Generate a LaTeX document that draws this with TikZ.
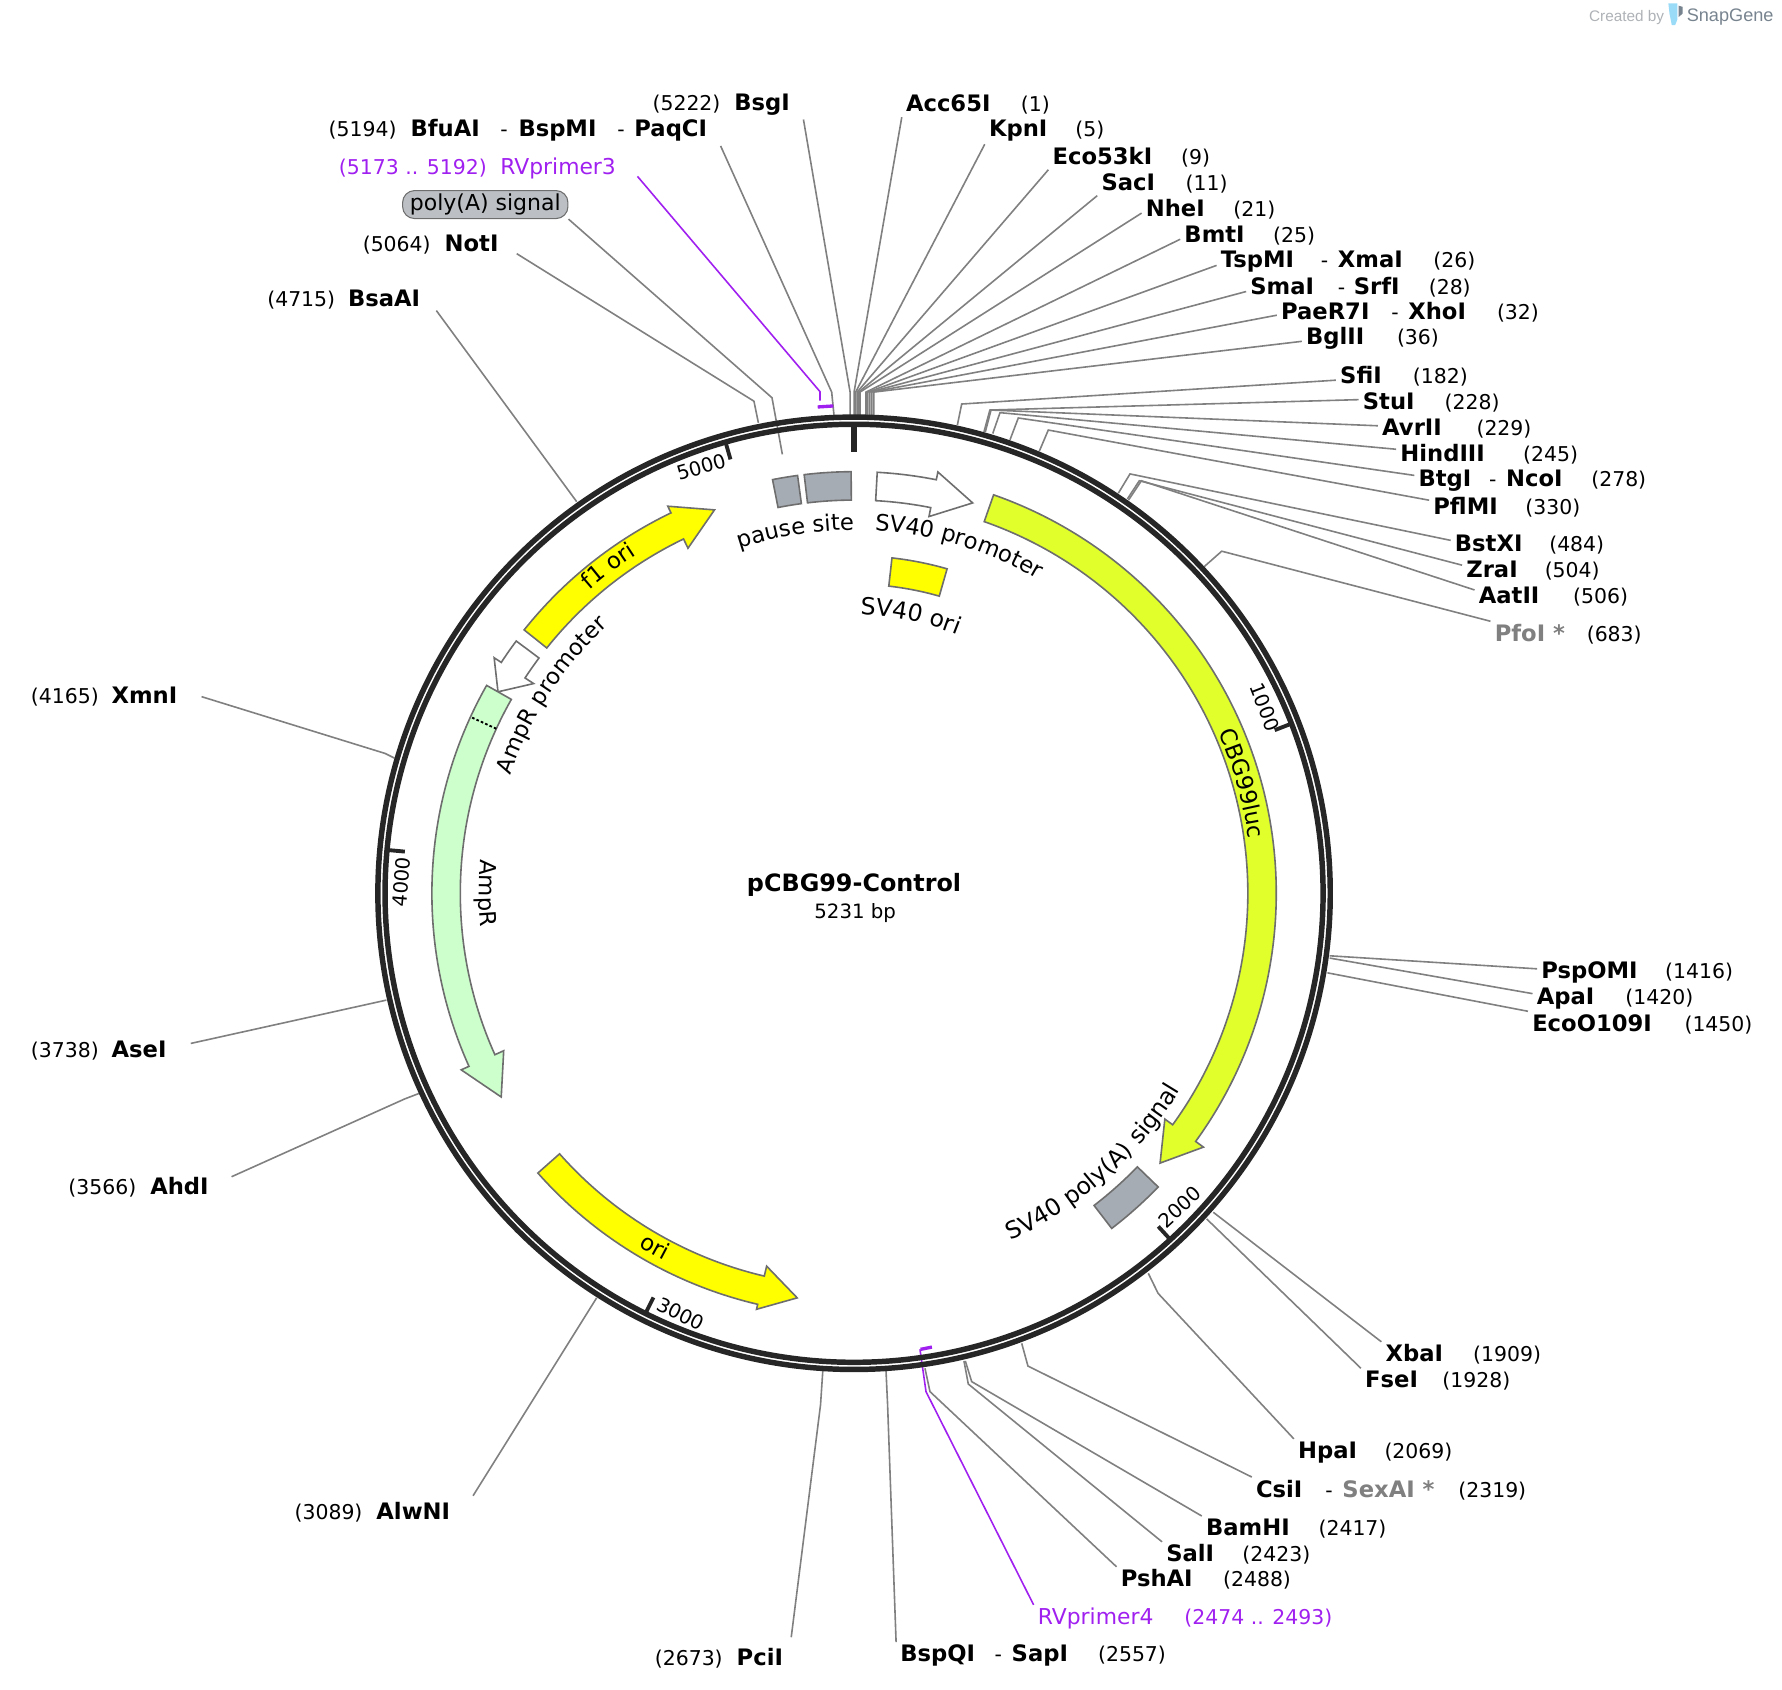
\documentclass[tikz,border=0pt]{standalone}
\usepackage{fontspec}
\usepackage{xcolor}
\setmainfont{DejaVu Sans}
\newfontfamily\logofont{Liberation Sans}
\usetikzlibrary{decorations.text}

\definecolor{ringcol}{HTML}{262626}
\definecolor{cutgray}{HTML}{808080}
\definecolor{edgegray}{HTML}{6E6E6E}
\definecolor{primercol}{HTML}{A020F0}
\definecolor{limecol}{HTML}{E0FF2B}
\definecolor{oricol}{HTML}{FFFF00}
\definecolor{ampcol}{HTML}{CCFFCC}
\definecolor{termcol}{HTML}{A6ACB3}
\definecolor{pillcol}{HTML}{BCC0C4}
\definecolor{snapcol}{HTML}{77838E}
\definecolor{madecol}{HTML}{AEB2B6}
\definecolor{iconcol}{HTML}{9ADBF7}

\newdimen\pxu \pxu=0.8523pt
\newcommand{\col}[2]{\makebox[#1\pxu][l]{#2}}
\newcommand{\nm}[1]{{\fontsize{17pt}{18pt}\selectfont\bfseries #1}}
\newcommand{\arcfont}{\fontsize{17pt}{18pt}\selectfont}
\newcommand{\arcfontb}{\fontsize{17.7pt}{18pt}\selectfont}

\begin{document}
\begin{tikzpicture}[
    x=0.8523pt, y=0.8523pt,
    font=\fontsize{15.3pt}{18pt}\selectfont,
    lblL/.style={anchor=west, inner xsep=10pt, inner ysep=3pt, xshift=-10pt, yshift=-1.7pt},
    lblR/.style={anchor=west, inner xsep=3pt, inner ysep=2pt, xshift=-3pt, yshift=-1.7pt},
    cut/.style={draw=cutgray, line width=1.2pt},
    primer/.style={draw=primercol, line width=1.2pt},
    bind/.style={draw=primercol, line width=2.5pt},
    feat/.style={draw=edgegray, line width=1.2pt, line join=miter},
    ticklbl/.style={font=\fontsize{14.7pt}{16pt}\selectfont, inner sep=0pt},
    thou/.style={draw=ringcol, line width=2.9pt},
    arclabel/.style={decorate, decoration={text along path, text align=center, text={|\arcfont|#1}}},
    arcwide/.style={decorate, decoration={text along path, text align=center, text={|\arcfontb|#1}}},
    ]
\useasboundingbox (0,0) rectangle (1568,-1487);

% labels, left side
\node[lblL] (BsgI) at (574,-90) {\col{72}{(5222)}\nm{BsgI}};
\node[lblL] (BfuAI) at (289,-113) {\col{72}{(5194)}\col{79}{\nm{BfuAI}}\col{16}{-}\col{87}{\nm{BspMI}}\col{15}{-}\nm{PaqCI}};
\node[lblL, text=primercol] (RVprimer3) at (298,-146) {\col{142}{(5173 .. 5192)}{\fontsize{16.4pt}{18pt}\selectfont RVprimer3}};
\node[draw=edgegray, fill=pillcol, rounded corners=9pt, line width=0.8pt, minimum width=124pt, minimum height=21pt, inner sep=0pt, font=\fontsize{16.5pt}{18pt}\selectfont] (pA) at (427,-180) {\raisebox{-1.2pt}{poly(A) signal}};
\node[lblL] (NotI) at (319,-213) {\col{72}{(5064)}\nm{NotI}};
\node[lblL] (BsaAI) at (235,-262) {\col{71}{(4715)}\nm{BsaAI}};
\node[lblL] (XmnI) at (27,-611) {\col{71}{(4165)}\nm{XmnI}};
\node[lblL] (AseI) at (27,-922) {\col{71}{(3738)}\nm{AseI}};
\node[lblL] (AhdI) at (60,-1043) {\col{72}{(3566)}\nm{AhdI}};
\node[lblL] (AlwNI) at (259,-1329) {\col{72}{(3089)}\nm{AlwNI}};
\node[lblL] (PciI) at (576,-1457) {\col{72}{(2673)}\nm{PciI}};

% labels, right side
\node[lblR] (Acc65I) at (797,-90) {\col{101}{\nm{Acc65I}}(1)};
\node[lblR] (KpnI) at (870,-113) {\col{76}{\nm{KpnI}}(5)};
\node[lblR] (Eco53kI) at (926,-136) {\col{113}{\nm{Eco53kI}}(9)};
\node[lblR] (SacI) at (969,-159) {\col{74}{\nm{SacI}}(11)};
\node[lblR] (NheI) at (1008,-182) {\col{77}{\nm{NheI}}(21)};
\node[lblR] (BmtI) at (1042,-205) {\col{78}{\nm{BmtI}}(25)};
\node[lblR] (TspMI) at (1074,-228) {\col{88}{\nm{TspMI}}\col{15}{-}\col{84}{\nm{XmaI}}(26)};
\node[lblR] (SmaI) at (1100,-251) {\col{77}{\nm{SmaI}}\col{14}{-}\col{66}{\nm{SrfI}}(28)};
\node[lblR] (PaeR7I) at (1127,-273) {\col{97}{\nm{PaeR7I}}\col{15}{-}\col{78}{\nm{XhoI}}(32)};
\node[lblR] (BglII) at (1149,-296) {\col{80}{\nm{BglII}}(36)};
\node[lblR] (SfiI) at (1179,-329) {\col{64}{\nm{SfiI}}(182)};
\node[lblR] (StuI) at (1199,-352) {\col{72}{\nm{StuI}}(228)};
\node[lblR] (AvrII) at (1216,-375) {\col{83}{\nm{AvrII}}(229)};
\node[lblR] (HindIII) at (1232,-398) {\col{108}{\nm{HindIII}}(245)};
\node[lblR] (BtgI) at (1248,-421) {\col{62}{\nm{BtgI}}\col{15}{-}\col{75}{\nm{NcoI}}(278)};
\node[lblR] (PflMI) at (1261,-444) {\col{81}{\nm{PflMI}}(330)};
\node[lblR] (BstXI) at (1280,-477) {\col{83}{\nm{BstXI}}(484)};
\node[lblR] (ZraI) at (1290,-500) {\col{69}{\nm{ZraI}}(504)};
\node[lblR] (AatII) at (1301,-523) {\col{83}{\nm{AatII}}(506)};
\node[lblR] (PfoI) at (1315,-556) {\col{81}{\textcolor{cutgray}{\nm{PfoI *}}}(683)};
\node[lblR] (PspOMI) at (1356,-854) {\col{109}{\nm{PspOMI}}(1416)};
\node[lblR] (ApaI) at (1352,-877) {\col{78}{\nm{ApaI}}(1420)};
\node[lblR] (EcoO109I) at (1348,-899) {\col{134}{\nm{EcoO109I}}(1450)};
\node[lblR] (XbaI) at (1219,-1190) {\col{77}{\nm{XbaI}}(1909)};
\node[lblR] (FseI) at (1201,-1213) {\col{68}{\nm{FseI}}(1928)};
\node[lblR] (HpaI) at (1142,-1276) {\col{76}{\nm{HpaI}}(2069)};
\node[lblR] (CsiI) at (1105,-1309) {\col{61}{\nm{CsiI}}\col{15}{-}\col{102}{\textcolor{cutgray}{\nm{SexAI *}}}(2319)};
\node[lblR] (BamHI) at (1061,-1343) {\col{99}{\nm{BamHI}}(2417)};
\node[lblR] (SalI) at (1026,-1366) {\col{67}{\nm{SalI}}(2423)};
\node[lblR] (PshAI) at (986,-1388) {\col{90}{\nm{PshAI}}(2488)};
\node[lblR, text=primercol] (RVprimer4) at (913,-1422) {\col{129}{{\fontsize{16.4pt}{18pt}\selectfont RVprimer4}}(2474 .. 2493)};
\node[lblR] (BspQI) at (792,-1455) {\col{83}{\nm{BspQI}}\col{15}{-}\col{76}{\nm{SapI}}(2557)};

% where the lines meet the ring
\coordinate (BsgI-r) at (748,-365);
\coordinate (BfuAI-r) at (733.8,-365);
\coordinate (RVprimer3-r) at (721.5,-352.5);
\coordinate (pA-r) at (688.4,-399.8);
\coordinate (NotI-r) at (667.3,-372);
\coordinate (BsaAI-r) at (507.4,-441.4);
\coordinate (XmnI-r) at (347,-667);
\coordinate (AseI-r) at (340,-880);
\coordinate (AhdI-r) at (369,-962);
\coordinate (AlwNI-r) at (525,-1142);
\coordinate (PciI-r) at (724,-1206);
\coordinate (Acc65I-r) at (751.5,-365);
\coordinate (KpnI-r) at (752.9,-365);
\coordinate (Eco53kI-r) at (754.2,-365);
\coordinate (SacI-r) at (755.5,-365);
\coordinate (NheI-r) at (756.7,-365);
\coordinate (BmtI-r) at (762,-365);
\coordinate (TspMI-r) at (763.7,-365);
\coordinate (SmaI-r) at (765.4,-365);
\coordinate (PaeR7I-r) at (767.1,-365);
\coordinate (BglII-r) at (768.8,-366);
\coordinate (SfiI-r) at (842.4,-374);
\coordinate (StuI-r) at (865.8,-380);
\coordinate (AvrII-r) at (867,-380);
\coordinate (HindIII-r) at (873.5,-381.5);
\coordinate (BtgI-r) at (888.7,-387);
\coordinate (PflMI-r) at (914.5,-397);
\coordinate (BstXI-r) at (984,-434);
\coordinate (ZraI-r) at (992,-439);
\coordinate (AatII-r) at (993,-440);
\coordinate (PfoI-r) at (1058,-500);
\coordinate (PspOMI-r) at (1170,-841);
\coordinate (ApaI-r) at (1170,-843);
\coordinate (EcoO109I-r) at (1168,-856);
\coordinate (XbaI-r) at (1067.6,-1066.7);
\coordinate (FseI-r) at (1061.8,-1072.6);
\coordinate (HpaI-r) at (1010.4,-1120.4);
\coordinate (CsiI-r) at (899,-1182);
\coordinate (BamHI-r) at (849.4,-1197.5);
\coordinate (SalI-r) at (848.2,-1197.5);
\coordinate (PshAI-r) at (813.9,-1204);
\coordinate (RVprimer4-r) at (809.5,-1187.3);
\coordinate (BspQI-r) at (779.6,-1206);

\draw[cut] (BsgI.south east) -- (748,-345) -- (BsgI-r);
\draw[cut] (BfuAI.south east) -- (731.8,-345) -- (BfuAI-r);
\draw[primer] ([shift={(6pt,5pt)}]RVprimer3.south east) -- (721.5,-344.6) -- (RVprimer3-r);
\draw[cut] (pA.south east) -- (679.3,-350) -- (pA-r);
\draw[cut] ([shift={(3.5pt,-7pt)}]NotI.east) -- (663.4,-353) -- (NotI-r);
\draw[cut] ([shift={(2pt,2.5pt)}]BsaAI.south east) -- (BsaAI-r);
\draw[cut] ([xshift=8pt]XmnI.east) -- (339,-663) -- (XmnI-r);
\draw[cut] ([shift={(8pt,5pt)}]AseI.east) -- (AseI-r);
\draw[cut] ([shift={(7pt,-2.5pt)}]AhdI.north east) -- (356,-967) -- (AhdI-r);
\draw[cut] ([shift={(7pt,2pt)}]AlwNI.north east) -- (AlwNI-r);
\draw[cut] ([shift={(-4pt,5pt)}]PciI.north east) -- (722,-1236) -- (PciI-r);
\draw[cut] (Acc65I.south west) -- (751.5,-345) -- (Acc65I-r);
\draw[cut] (KpnI.south west) -- (752.9,-345) -- (KpnI-r);
\draw[cut] (Eco53kI.south west) -- (754.2,-345) -- (Eco53kI-r);
\draw[cut] (SacI.south west) -- (755.5,-345) -- (SacI-r);
\draw[cut] ([yshift=-3pt]NheI.west) -- (756.7,-345) -- (NheI-r);
\draw[cut] ([yshift=-3pt]BmtI.west) -- (762,-345) -- (BmtI-r);
\draw[cut] ([yshift=-3pt]TspMI.west) -- (763.7,-345) -- (TspMI-r);
\draw[cut] ([yshift=-3pt]SmaI.west) -- (765.4,-345) -- (SmaI-r);
\draw[cut] ([yshift=-2pt]PaeR7I.west) -- (767.1,-345) -- (PaeR7I-r);
\draw[cut] ([yshift=-2pt]BglII.west) -- (768.8,-345) -- (BglII-r);
\draw[cut] ([yshift=-3pt]SfiI.west) -- (846.2,-355.5) -- (SfiI-r);
\draw[cut] ([yshift=2pt]StuI.west) -- (871,-360.8) -- (StuI-r);
\draw[cut] ([yshift=2pt]AvrII.west) -- (872,-360.8) -- (AvrII-r);
\draw[cut] ([yshift=4pt]HindIII.west) -- (879.9,-363.1) -- (HindIII-r);
\draw[cut] ([yshift=4pt]BtgI.west) -- (896,-367.8) -- (BtgI-r);
\draw[cut] ([yshift=5pt]PflMI.west) -- (922.4,-378.4) -- (PflMI-r);
\draw[cut] ([yshift=3pt]BstXI.west) -- (994.3,-417) -- (BstXI-r);
\draw[cut] ([yshift=4pt]ZraI.west) -- (1002.5,-423) -- (ZraI-r);
\draw[cut] ([yshift=5pt]AatII.west) -- (1004.3,-423) -- (AatII-r);
\draw[cut] (PfoI.north west) -- (1075,-485) -- (PfoI-r);
\draw[cut] ([yshift=3pt]PspOMI.west) -- (PspOMI-r);
\draw[cut] ([yshift=4pt]ApaI.west) -- (ApaI-r);
\draw[cut] (EcoO109I.north west) -- (EcoO109I-r);
\draw[cut] (XbaI.north west) -- (XbaI-r);
\draw[cut] (FseI.north west) -- (FseI-r);
\draw[cut] (HpaI.north west) -- (1019,-1138) -- (HpaI-r);
\draw[cut] (CsiI.north west) -- (904.5,-1202) -- (CsiI-r);
\draw[cut] (BamHI.north west) -- (855,-1215.7) -- (BamHI-r);
\draw[cut] (SalI.north west) -- (852,-1217.8) -- (SalI-r);
\draw[cut] (PshAI.north west) -- (818.3,-1224.5) -- (PshAI-r);
\draw[primer] (RVprimer4.north west) -- (814.8,-1224.5) -- (RVprimer4-r);
\draw[cut] (BspQI.north west) -- (781,-1236) -- (BspQI-r);

\draw[bind] (719.5,-358.1) -- (733.2,-357.2);
\draw[bind] (810,-1187.3) -- (820,-1185.3);

\begin{scope}[shift={(751.5,-786)}]
% ring
\draw[ringcol, line width=4.1pt] (0,0) circle[radius=419];
\draw[ringcol, line width=4.1pt] (0,0) circle[radius=412.7];
\draw[ringcol, line width=4.1pt] (90:410) -- (90:388.6);
\draw[thou] (21.2:411) -- (21.2:397);
\draw[thou] (-47.6:411) -- (-47.6:397);
\draw[thou] (-116.4:411) -- (-116.4:397);
\draw[thou] (-185.3:411) -- (-185.3:397);
\draw[thou] (-254.1:411) -- (-254.1:397);

% features
\draw[feat, fill=limecol] (70.7:346.5) arc[start angle=70.7, end angle=-36, radius=346.5] -- (-36:338) -- (-41.4:359) -- (-36:380) -- (-36:371.5) arc[start angle=-36, end angle=70.7, radius=371.5] -- cycle;
\draw[feat, fill=termcol] (101.15:346) arc[start angle=101.15, end angle=97.7, radius=346] -- (97.7:371) arc[start angle=97.7, end angle=101.15, radius=371] -- cycle;
\draw[feat, fill=termcol] (96.8:346) arc[start angle=96.8, end angle=90.4, radius=346] -- (90.4:371) arc[start angle=90.4, end angle=96.8, radius=371] -- cycle;
\draw[feat, fill=white] (86.85:346) arc[start angle=86.85, end angle=78.75, radius=346] -- (78.75:338) -- (73.1:359) -- (78.75:378) -- (78.75:371) arc[start angle=78.75, end angle=86.85, radius=371] -- cycle;
\draw[feat, fill=oricol] (83.55:272) arc[start angle=83.55, end angle=74, radius=272] -- (74:297) arc[start angle=74, end angle=83.55, radius=297] -- cycle;
\draw[feat, fill=oricol] (141.4:346) arc[start angle=141.4, end angle=115.7, radius=346] -- (115.7:337) -- (110:359) -- (115.7:378) -- (115.7:371.5) arc[start angle=115.7, end angle=141.4, radius=371.5] -- cycle;
\draw[feat, fill=white] (143.25:346) arc[start angle=143.25, end angle=146.8, radius=346] -- (146.8:337) -- (150.5:360) -- (146.8:378.5) -- (146.8:371) arc[start angle=146.8, end angle=143.25, radius=371] -- cycle;
\draw[feat, fill=ampcol] (150.5:346.5) arc[start angle=150.5, end angle=204.2, radius=346.5] -- (204.2:338) -- (210:358.5) -- (204.2:379) -- (204.2:371.5) arc[start angle=204.2, end angle=150.5, radius=371.5] -- cycle;
\draw[black, line width=1.4pt, dash pattern=on 2pt off 1.6pt] (155.3:346.5) -- (155.3:371.5);
\draw[feat, fill=oricol] (221.5:346) arc[start angle=221.5, end angle=256.8, radius=346] -- (256.8:337) -- (262:359.5) -- (256.8:376) -- (256.8:371.5) arc[start angle=256.8, end angle=221.5, radius=371.5] -- cycle;
\draw[feat, fill=termcol] (-44:346.5) arc[start angle=-44, end angle=-52.45, radius=346.5] -- (-52.45:372) arc[start angle=-52.45, end angle=-44, radius=372] -- cycle;

% feature names, set along the circle
\path[arclabel={pause site}] (129.2:319.5) arc[start angle=129.2, end angle=69.2, radius=319.5];
\path[arclabel={SV40 promoter}] (103.2:320) arc[start angle=103.2, end angle=43.2, radius=320];
\path[arcwide={SV40 ori}] (108.5:245) arc[start angle=108.5, end angle=48.5, radius=245];
\path[arclabel={f1 ori}] (156.9:354) arc[start angle=156.9, end angle=96.9, radius=354];
\path[arclabel={AmpR promoter}] (176.8:320) arc[start angle=176.8, end angle=116.8, radius=320];
\path[arclabel={AmpR}] (150:330) arc[start angle=150, end angle=210, radius=330];
\path[arclabel={ori}] (210.6:364) arc[start angle=210.6, end angle=270.6, radius=364];
\path[arclabel={CBG99luc}] (45.8:350.5) arc[start angle=45.8, end angle=-14.2, radius=350.5];
\path[arcwide={SV40 poly(A) signal}] (-78.4:335) arc[start angle=-78.4, end angle=-18.4, radius=335];
\end{scope}

% ruler numbers
\node[ticklbl, rotate=-68.8] (t1000) at (1113,-622) {1000};
\node[ticklbl, rotate=42.4] (t2000) at (1038,-1062) {2000};
\node[ticklbl, rotate=-26.4] (t3000) at (599,-1156) {3000};
\node[ticklbl, rotate=85] (t4000) at (353,-776) {4000};
\node[ticklbl, rotate=15.9] (t5000) at (617,-411) {5000};

% middle of the plasmid
\node[font=\fontsize{17.9pt}{20pt}\selectfont\bfseries, inner sep=0pt] (title) at (751.5,-779) {pCBG99-Control};
\node[font=\fontsize{14.8pt}{18pt}\selectfont, inner sep=0pt] (size) at (752.5,-803) {5231 bp};

% corner mark
\node[anchor=west, inner sep=0pt, text=madecol, font=\logofont\fontsize{11.5pt}{13pt}\selectfont] (made) at (1398,-15) {Created by};
\node[anchor=west, inner sep=0pt, text=snapcol, font=\logofont\fontsize{13.6pt}{15pt}\selectfont] (snap) at (1484,-15) {SnapGene};
\fill[iconcol] (1468,-3) -- (1476,-3) -- (1476,-17) -- (1474,-22) -- (1471,-22) -- (1469,-12) -- cycle;
\fill[snapcol] (1477,-5) -- (1480.5,-6) -- (1480.5,-12) -- (1477,-15) -- cycle;
\end{tikzpicture}
\end{document}
